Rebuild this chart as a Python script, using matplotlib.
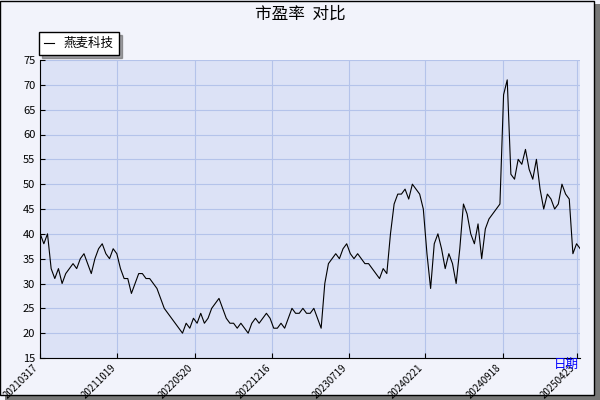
import numpy as np
import matplotlib.pyplot as plt
from matplotlib.patches import Rectangle

plt.rcParams['font.family'] = ['Noto Sans CJK SC', 'DejaVu Sans']

# ============================================================
# DATA (roughly evenly spaced in time)
# ============================================================
pe_values = [40, 38, 40, 33, 31, 33, 30, 32, 33, 34, 33, 35, 36, 34, 32, 35, 37, 38, 36, 35,
             37, 36, 33, 31, 31, 28, 30, 32, 32, 31, 31, 30, 29, 27, 25, 24, 23, 22, 21, 20,
             22, 21, 23, 22, 24, 22, 23, 25, 26, 27, 25, 23, 22, 22, 21, 22, 21, 20, 22, 23,
             22, 23, 24, 23, 21, 21, 22, 21, 23, 25, 24, 24, 25, 24, 24, 25, 23, 21, 30, 34,
             35, 36, 35, 37, 38, 36, 35, 36, 35, 34, 34, 33, 32, 31, 33, 32, 40, 46, 48, 48,
             49, 47, 50, 49, 48, 45, 36, 29, 38, 40, 37, 33, 36, 34, 30, 37, 46, 44, 40, 38,
             42, 35, 41, 43, 44, 45, 46, 68, 71, 52, 51, 55, 54, 57, 53, 51, 55, 49, 45, 48,
             47, 45, 46, 50, 48, 47, 36, 38, 37]
tick_labels = ["20210317", "20211019", "20220520", "20221216", "20230719",
               "20240221", "20240918", "20250423"]
tick_frac = [0.0, 0.143, 0.287, 0.43, 0.572, 0.713, 0.857, 0.994]

# ============================================================
# PLOT
# ============================================================
fig = plt.figure(figsize=(6, 4), dpi=100, facecolor='#F2F3FB')
ax = fig.add_axes([0.067, 0.105, 0.9, 0.745])
ax.set_facecolor('#DCE2F6')

x = np.arange(len(pe_values))
ax.plot(x, pe_values, color='black', linewidth=0.8, label='燕麦科技')

n = len(pe_values) - 1
ax.set_xlim(0, n)
ax.set_ylim(15, 75)
ax.set_yticks(range(15, 80, 5))
ax.set_xticks([f * n for f in tick_frac])
ax.set_xticklabels(tick_labels, rotation=45, ha='right', fontsize=7)
ax.tick_params(axis='y', labelsize=8, direction='in')
ax.tick_params(axis='x', direction='in')
ax.grid(True, color='#B4C3EA', linewidth=0.8)
for s in ['top', 'right']:
    ax.spines[s].set_visible(False)

fig.text(0.5, 0.965, '市盈率  对比', ha='center', va='center', fontsize=12)
fig.text(0.965, 0.09, '日期', ha='right', va='center', fontsize=9, color='blue')

leg = fig.legend(loc='lower left', bbox_to_anchor=(0.065, 0.862), fontsize=9,
                 frameon=True, fancybox=False, shadow=True, handlelength=0.8,
                 borderaxespad=0)
leg.get_frame().set_edgecolor('black')

# outer frame with shadow
fig.patches.append(Rectangle((0.008, 0.0), 0.992, 0.99, transform=fig.transFigure,
                             facecolor='#777777', edgecolor='none', zorder=-2))
fig.patches.append(Rectangle((0.0, 0.012), 0.99, 0.985, transform=fig.transFigure,
                             facecolor='#F2F3FB', edgecolor='black', zorder=-1))

plt.savefig('out.png', dpi=100, facecolor=fig.get_facecolor())
